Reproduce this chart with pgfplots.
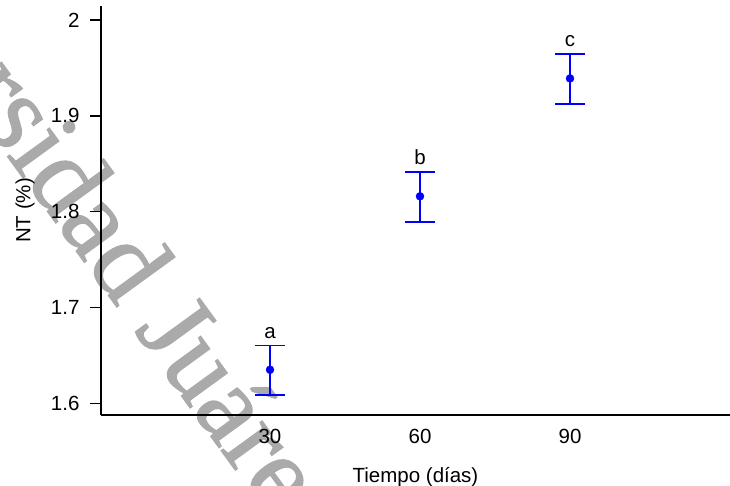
\documentclass[border=0pt]{standalone}
\usepackage{pgfplots}
\pgfplotsset{compat=1.18}
\usepackage{fontspec}
\setmainfont{Liberation Sans}
\newfontfamily\wmfont[FakeBold=1.2]{Liberation Serif}
\definecolor{ptblue}{RGB}{0,0,255}
\definecolor{wmgray}{RGB}{170,170,170}
\begin{document}
\begin{tikzpicture}
\useasboundingbox (0,0) rectangle (730bp,486bp);
\begin{scope}
\clip (0,0) rectangle (730bp,486bp);
\node[rotate=-54, anchor=base east, inner sep=0, text=wmgray, font=\wmfont\fontsize{110bp}{120bp}\selectfont] at (-19bp,366bp) {Univer};
\node[rotate=-54, anchor=base west, inner sep=0, text=wmgray, font=\wmfont\fontsize{110bp}{120bp}\selectfont] at (-19bp,366bp) {sidad Juárez Autónoma de Tabasco};
\end{scope}
\begin{axis}[
  at={(101bp,71bp)}, anchor=south west,
  scale only axis, width=629bp, height=409bp,
  xmin=-3.8, xmax=122, ymin=1.5878, ymax=2.0146,
  axis lines=left,
  axis line style={-, line width=1.6bp, black},
  tick pos=left, tick align=outside,
  major tick length=11bp,
  xtick={30,60,90},
  ytick={1.6,1.7,1.8,1.9,2},
  xtick style={draw=none},
  ytick style={line width=1.6bp, black},
  /pgf/number format/assume math mode=true,
  /pgf/number format/fixed,
  tick label style={font=\fontsize{20.5bp}{24bp}\selectfont},
  yticklabel style={xshift=-7bp},
  label style={font=\fontsize{20.5bp}{24bp}\selectfont},
  xlabel={Tiempo (días)},
  ylabel={NT (\%)},
  xlabel style={at={(axis description cs:0.5,-0.153)}, anchor=center},
  ylabel style={at={(axis description cs:-0.1208,0.5)}, anchor=center},
  clip=false,
]
% error bar caps (upper and lower limits)
\addplot[draw=ptblue, only marks, mark=-, mark size=15bp, mark options={line width=1.6bp, draw=ptblue, color=ptblue}]
  coordinates {
  (30,1.6605) (30,1.6085)
  (60,1.8415) (60,1.7895)
  (90,1.9645) (90,1.9125)
};
\addplot[color=ptblue, only marks, mark=*, mark size=4bp,
  error bars/.cd, y dir=both, y explicit, error mark=none,
  error bar style={line width=1.4bp, color=ptblue}]
  coordinates {
  (30,1.635) +- (0,0.026)
  (60,1.816) +- (0,0.026)
  (90,1.939) +- (0,0.026)
};
\node[anchor=base, inner sep=0, font=\fontsize{20.5bp}{24bp}\selectfont] at (axis cs:30,1.668) {a};
\node[anchor=base, inner sep=0, font=\fontsize{20.5bp}{24bp}\selectfont] at (axis cs:60,1.849) {b};
\node[anchor=base, inner sep=0, font=\fontsize{20.5bp}{24bp}\selectfont] at (axis cs:90,1.972) {c};
\end{axis}
\end{tikzpicture}
\end{document}
